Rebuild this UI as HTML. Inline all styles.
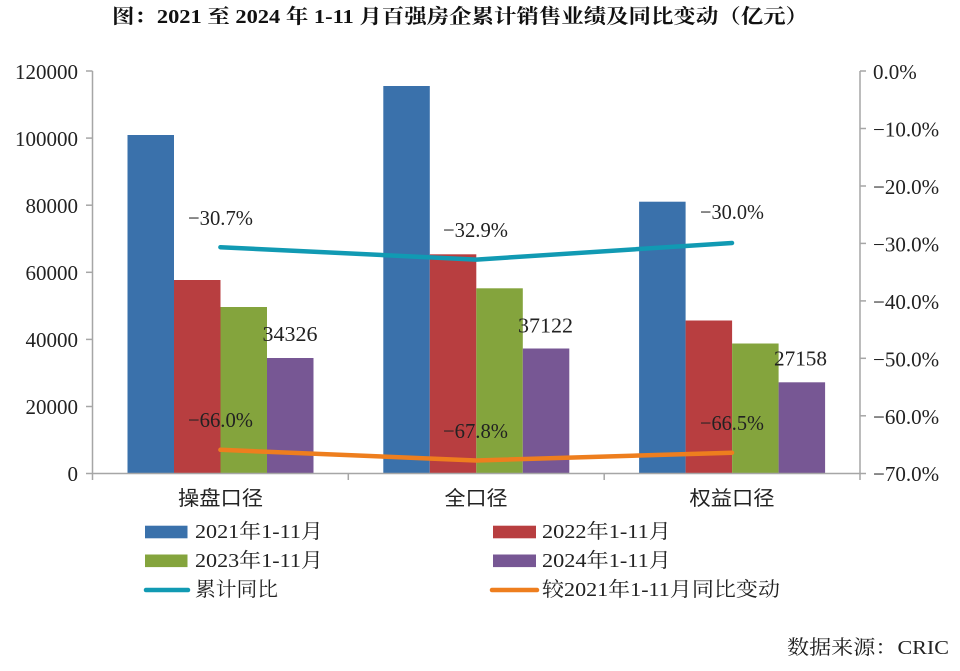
<!DOCTYPE html>
<html>
<head>
<meta charset="utf-8">
<style>
html,body{margin:0;padding:0;background:#fff;}
svg{display:block;}
.num{font-family:"Liberation Serif","Noto Serif CJK SC",serif;font-size:21px;fill:#222;}
.cjk{font-family:"Liberation Serif","Noto Serif CJK SC",serif;font-size:20px;fill:#222;}
.cat{font-family:"Liberation Sans","Noto Sans CJK SC",sans-serif;font-size:20px;fill:#222;}
</style>
</head>
<body>
<svg width="960" height="671" viewBox="0 0 960 671" xmlns="http://www.w3.org/2000/svg">
<rect width="960" height="671" fill="#fff"/>
<!-- Title -->
<text x="112" y="17" dominant-baseline="central" textLength="696" lengthAdjust="spacingAndGlyphs" font-family="Liberation Serif, Noto Serif CJK SC, serif" font-size="20" font-weight="bold" fill="#111">图：2021 至 2024 年 1-11 月百强房企累计销售业绩及同比变动（亿元）</text>

<!-- Bars group 1 -->
<rect x="127.5" y="135" width="46.5" height="338.5" fill="#3A71AB"/>
<rect x="174" y="280" width="46.5" height="193.5" fill="#B83E40"/>
<rect x="220.5" y="307" width="46.5" height="166.5" fill="#84A43D"/>
<rect x="267" y="358" width="46.5" height="115.5" fill="#775794"/>
<!-- Bars group 2 -->
<rect x="383.3" y="86" width="46.5" height="387.5" fill="#3A71AB"/>
<rect x="429.8" y="254.3" width="46.5" height="219.2" fill="#B83E40"/>
<rect x="476.3" y="288.3" width="46.5" height="185.2" fill="#84A43D"/>
<rect x="522.8" y="348.5" width="46.5" height="125" fill="#775794"/>
<!-- Bars group 3 -->
<rect x="639.1" y="201.7" width="46.5" height="271.8" fill="#3A71AB"/>
<rect x="685.6" y="320.5" width="46.5" height="153" fill="#B83E40"/>
<rect x="732.1" y="343.5" width="46.5" height="130" fill="#84A43D"/>
<rect x="778.6" y="382.3" width="46.5" height="91.2" fill="#775794"/>

<!-- Axes -->
<g stroke="#A6A6A6" stroke-width="1.5" fill="none">
<line x1="92.5" y1="71" x2="92.5" y2="473.5"/>
<line x1="86" y1="71" x2="92.5" y2="71"/>
<line x1="86" y1="138.1" x2="92.5" y2="138.1"/>
<line x1="86" y1="205.2" x2="92.5" y2="205.2"/>
<line x1="86" y1="272.3" x2="92.5" y2="272.3"/>
<line x1="86" y1="339.4" x2="92.5" y2="339.4"/>
<line x1="86" y1="406.5" x2="92.5" y2="406.5"/>
<line x1="86" y1="473.5" x2="92.5" y2="473.5"/>
<line x1="92.5" y1="473.5" x2="860" y2="473.5"/>
<line x1="92.5" y1="473.5" x2="92.5" y2="480"/>
<line x1="348.3" y1="473.5" x2="348.3" y2="480"/>
<line x1="604.2" y1="473.5" x2="604.2" y2="480"/>
<line x1="860" y1="71" x2="860" y2="480"/>
<line x1="860" y1="71" x2="866" y2="71"/>
<line x1="860" y1="128.5" x2="866" y2="128.5"/>
<line x1="860" y1="186" x2="866" y2="186"/>
<line x1="860" y1="243.4" x2="866" y2="243.4"/>
<line x1="860" y1="300.9" x2="866" y2="300.9"/>
<line x1="860" y1="358.3" x2="866" y2="358.3"/>
<line x1="860" y1="415.8" x2="866" y2="415.8"/>
<line x1="860" y1="473.5" x2="866" y2="473.5"/>
</g>

<!-- Left tick labels -->
<g class="num" text-anchor="end" dominant-baseline="central">
<text x="78" y="72">120000</text>
<text x="78" y="139">100000</text>
<text x="78" y="206">80000</text>
<text x="78" y="273">60000</text>
<text x="78" y="340">40000</text>
<text x="78" y="407">20000</text>
<text x="78" y="474">0</text>
</g>
<!-- Right tick labels -->
<g class="num" dominant-baseline="central">
<text x="873" y="72">0.0%</text>
<text x="873" y="129.5">−10.0%</text>
<text x="873" y="187">−20.0%</text>
<text x="873" y="244.4">−30.0%</text>
<text x="873" y="301.9">−40.0%</text>
<text x="873" y="359.3">−50.0%</text>
<text x="873" y="416.8">−60.0%</text>
<text x="873" y="474">−70.0%</text>
</g>

<!-- Lines -->
<polyline points="220.4,247.2 476.2,259.6 732,243" fill="none" stroke="#119AB3" stroke-width="4.5" stroke-linecap="round" stroke-linejoin="round"/>
<polyline points="220.4,449.8 476.2,460.5 732,452.7" fill="none" stroke="#EE7E1E" stroke-width="4.5" stroke-linecap="round" stroke-linejoin="round"/>

<!-- Data labels -->
<g class="num" text-anchor="middle" dominant-baseline="central">
<text x="220.5" y="218" textLength="65" lengthAdjust="spacingAndGlyphs">−30.7%</text>
<text x="475.5" y="230" textLength="65" lengthAdjust="spacingAndGlyphs">−32.9%</text>
<text x="732" y="212" textLength="64" lengthAdjust="spacingAndGlyphs">−30.0%</text>
<text x="290" y="334" textLength="55" lengthAdjust="spacingAndGlyphs">34326</text>
<text x="545.5" y="325.5" textLength="55" lengthAdjust="spacingAndGlyphs">37122</text>
<text x="800.5" y="358.5" textLength="53" lengthAdjust="spacingAndGlyphs">27158</text>
<text x="220.5" y="420" textLength="65" lengthAdjust="spacingAndGlyphs">−66.0%</text>
<text x="475.5" y="431" textLength="65" lengthAdjust="spacingAndGlyphs">−67.8%</text>
<text x="732" y="423" textLength="64" lengthAdjust="spacingAndGlyphs">−66.5%</text>
</g>

<!-- Category labels -->
<g class="cat" text-anchor="middle" dominant-baseline="central">
<text x="220.5" y="499" textLength="85" lengthAdjust="spacingAndGlyphs">操盘口径</text>
<text x="476" y="499" textLength="63" lengthAdjust="spacingAndGlyphs">全口径</text>
<text x="732" y="499" textLength="85" lengthAdjust="spacingAndGlyphs">权益口径</text>
</g>

<!-- Legend -->
<rect x="145" y="525.7" width="42.5" height="12.6" fill="#3A71AB"/>
<rect x="145" y="554.5" width="42.5" height="12.6" fill="#84A43D"/>
<line x1="146" y1="590" x2="188" y2="590" stroke="#119AB3" stroke-width="4.5" stroke-linecap="round"/>
<rect x="493" y="525.7" width="43" height="12.6" fill="#B83E40"/>
<rect x="493" y="554.5" width="43" height="12.6" fill="#775794"/>
<line x1="492" y1="590" x2="537" y2="590" stroke="#EE7E1E" stroke-width="4.5" stroke-linecap="round"/>
<g class="cjk" dominant-baseline="central">
<text x="195" y="532" textLength="128" lengthAdjust="spacingAndGlyphs">2021年1-11月</text>
<text x="195" y="561" textLength="128" lengthAdjust="spacingAndGlyphs">2023年1-11月</text>
<text x="195" y="590" textLength="83" lengthAdjust="spacingAndGlyphs">累计同比</text>
<text x="542" y="532" textLength="129" lengthAdjust="spacingAndGlyphs">2022年1-11月</text>
<text x="542" y="561" textLength="129" lengthAdjust="spacingAndGlyphs">2024年1-11月</text>
<text x="542" y="590" textLength="238" lengthAdjust="spacingAndGlyphs">较2021年1-11月同比变动</text>
</g>

<!-- Source -->
<text x="787" y="648" class="cjk" dominant-baseline="central" textLength="162" lengthAdjust="spacingAndGlyphs">数据来源：CRIC</text>
</svg>
</body>
</html>
